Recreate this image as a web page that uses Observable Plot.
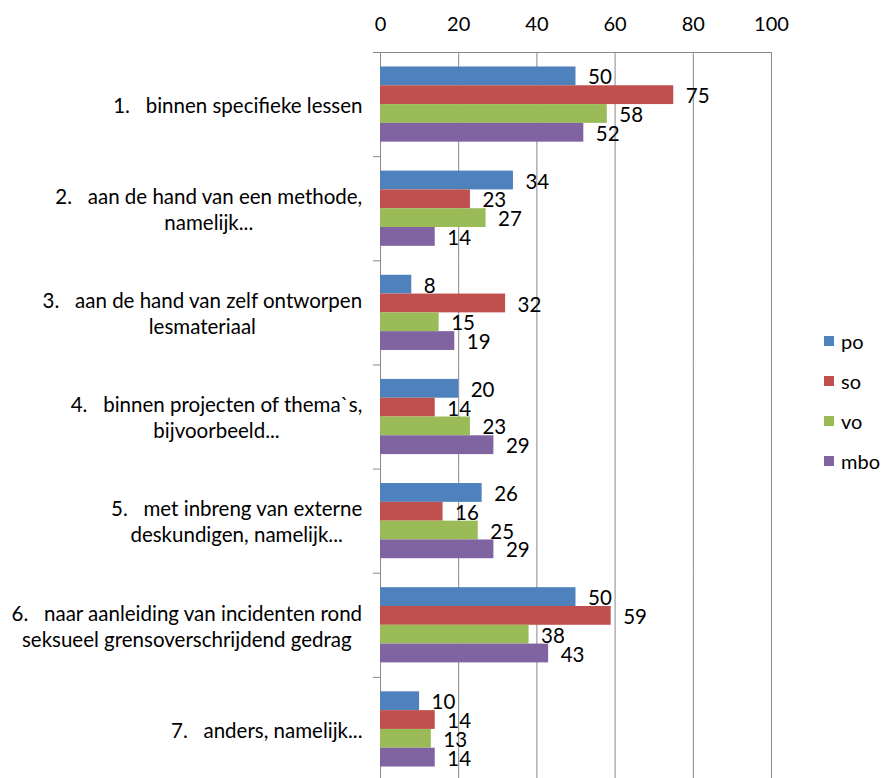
<!DOCTYPE html>
<html><head><meta charset="utf-8">
<script src="https://cdn.jsdelivr.net/npm/d3@7"></script>
<script src="https://cdn.jsdelivr.net/npm/@observablehq/plot@0.6"></script>
<style>
html,body{margin:0;padding:0;overflow:hidden;background:#fff;}
#wrap{position:relative;width:884px;height:778px;}
#legend{position:absolute;left:824px;top:321px;font-family:Lato,sans-serif;font-size:20px;color:#000}
.item{display:flex;align-items:center;height:40px;}
.sw{width:10px;height:10px;margin-right:7px}
</style></head><body><div id="wrap"></div>
<script>
const categories = [
  "1.\u00a0\u00a0\u00a0binnen specifieke lessen",
  "2.\u00a0\u00a0\u00a0aan de hand van een methode,\nnamelijk...",
  "3.\u00a0\u00a0\u00a0aan de hand van zelf ontworpen\nlesmateriaal",
  "4.\u00a0\u00a0\u00a0binnen projecten of thema`s,\nbijvoorbeeld...",
  "5.\u00a0\u00a0\u00a0met inbreng van externe\ndeskundigen, namelijk...",
  "6.\u00a0\u00a0\u00a0naar aanleiding van incidenten rond\nseksueel grensoverschrijdend gedrag",
  "7.\u00a0\u00a0\u00a0anders, namelijk..."
];
const series = ["po", "so", "vo", "mbo"];
const po  = [50, 34, 8, 20, 26, 50, 10];
const so  = [75, 23, 32, 14, 16, 59, 14];
const vo  = [58, 27, 15, 23, 25, 38, 13];
const mbo = [52, 14, 19, 29, 29, 43, 14];
const xTicks = [0, 20, 40, 60, 80, 100];
const colors = ["#4F81BD", "#C0504D", "#9BBB59", "#8064A2"];

const values = [po, so, vo, mbo];
const data = categories.flatMap((c, i) => series.map((s, j) => ({cat: c, series: s, value: values[j][i]})));

const FONT = "Lato";
const labelSize = 20.5;
const W = 884, ML = 380, MR = 113, MT = 52, H = 781;
const pxPerUnit = (W - ML - MR) / 100;
const ctx = document.createElement("canvas").getContext("2d");
ctx.font = `${labelSize}px ${FONT}`;
const labelData = categories.map(c => {
  const w = d3.max(c.split("\n"), l => ctx.measureText(l).width);
  return {cat: c, x: -(18 + w / 2) / pxPerUnit};
});

const plot = Plot.plot({
  width: W, height: H,
  marginLeft: ML, marginRight: MR, marginTop: MT, marginBottom: 0,
  style: {fontFamily: FONT, fontSize: "20px", color: "#000", background: "#fff"},
  fy: {domain: categories, padding: 0, round: false, axis: null},
  y: {domain: series, paddingInner: 0, paddingOuter: 0.77, round: false, axis: null},
  x: {domain: [0, 100], axis: "top", ticks: xTicks, tickSize: 0, tickPadding: 22, label: null},
  color: {domain: series, range: colors},
  marks: [
    Plot.ruleX(xTicks, {stroke: "#888", strokeOpacity: 1}),
    Plot.frame({anchor: "top", insetLeft: -7, insetRight: W - ML - MR, stroke: "#888", strokeOpacity: 1}),
    Plot.frame({anchor: "top", facetAnchor: "top", insetLeft: -7, stroke: "#888", strokeOpacity: 1}),
    Plot.barX(data, {fy: "cat", y: "series", x: "value", fill: "series"}),
    Plot.text(data, {fy: "cat", y: "series", x: "value", text: d => String(d.value), textAnchor: "start", dx: 12, dy: 1.5, fontSize: 20.5, fill: "#000"}),
    Plot.text(labelData, {fy: "cat", x: "x", text: "cat", textAnchor: "middle", frameAnchor: "middle", fontSize: labelSize, lineHeight: 26 / labelSize, fill: "#000"})
  ]
});
const wrap = document.getElementById("wrap");
wrap.appendChild(plot);

const color = plot.scale("color");
const legend = document.createElement("div");
legend.id = "legend";
color.domain.forEach((s, i) => {
  const item = document.createElement("div");
  item.className = "item";
  const sw = document.createElement("span");
  sw.className = "sw";
  sw.style.background = color.range[i];
  const t = document.createElement("span");
  t.textContent = s;
  item.appendChild(sw); item.appendChild(t);
  legend.appendChild(item);
});
wrap.appendChild(legend);
</script></body></html>
